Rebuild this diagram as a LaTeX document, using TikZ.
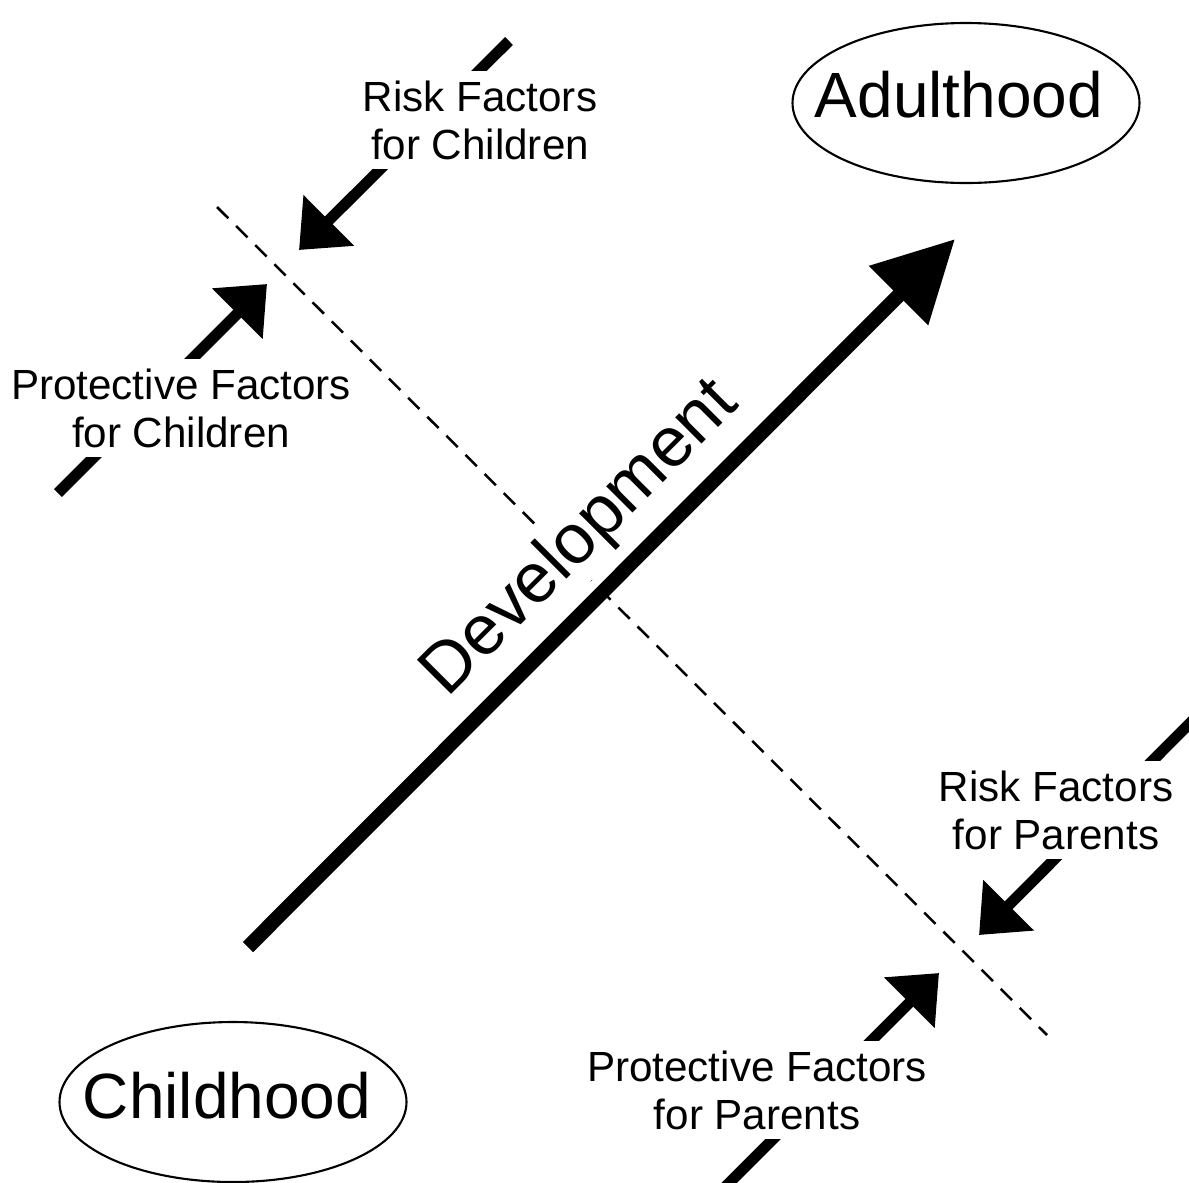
\documentclass[tikz,border=0pt]{standalone}
\usepackage{fontspec}
\setmainfont{Liberation Sans}
\usetikzlibrary{arrows.meta}
\begin{document}
\begin{tikzpicture}[x=0.1mm, y=0.1mm]
\tikzstyle{every node}+=[inner sep=0pt]
\tikzstyle{stage}=[anchor=base, font=\fontsize{18.2}{20}\selectfont]
\tikzstyle{stagering}=[line width=0.6pt]
\tikzstyle{factor}=[fill=white, inner sep=0.9mm, align=center, font=\fontsize{12}{13.7}\selectfont]
\tikzstyle{bigarrow}=[line width=1.45mm, -{Triangle[length=8mm,width=8mm]}]
\tikzstyle{smallarrow}=[line width=1.1mm, -{Triangle[length=4.2mm,width=6.9mm]}]
\tikzstyle{cut}=[line width=0.25mm, dash pattern=on 1.6mm off 1.1mm]
\clip (0,0) rectangle (1189,-1182);

\node [stage] (adult) at (959,-117) {Adulthood};
\draw [stagering] (966,-103) ellipse (173.5 and 80);
\node [stage] (child) at (227,-1118) {Childhood};
\draw [stagering] (233,-1102) ellipse (173.5 and 80);

\coordinate (cuttop) at (217,-207);
\coordinate (cutbot) at (1047,-1035);
\draw [cut] (cuttop) -- (cutbot);

\coordinate (devtail) at (248,-947);
\coordinate (devtip) at (955,-239);
\node [rotate=45, anchor=base, fill=white, inner sep=1pt, font=\fontsize{20}{22}\selectfont] (devlabel) at (594,-552) {Development};
\draw [bigarrow] (devtail) -- (devtip);

\coordinate (riskchildtail) at (509,-41);
\coordinate (riskchildtip) at (299,-250);
\draw [smallarrow] (riskchildtail) -- (riskchildtip);

\coordinate (protchildtail) at (58,-493);
\coordinate (protchildtip) at (267,-284);
\draw [smallarrow] (protchildtail) -- (protchildtip);

\coordinate (riskparenttail) at (1200,-713);
\coordinate (riskparenttip) at (979,-935);
\draw [smallarrow] (riskparenttail) -- (riskparenttip);

\coordinate (protparenttail) at (720,-1192);
\coordinate (protparenttip) at (939,-973);
\draw [smallarrow] (protparenttail) -- (protparenttip);

\node [factor] (riskchild) at (480,-120) {Risk Factors\\for Children};
\node [factor] (protchild) at (181,-408) {Protective Factors\\for Children};
\node [factor] (riskparent) at (1056,-810) {Risk Factors\\for Parents};
\node [factor] (protparent) at (757,-1090) {Protective Factors\\for Parents};
\end{tikzpicture}
\end{document}
